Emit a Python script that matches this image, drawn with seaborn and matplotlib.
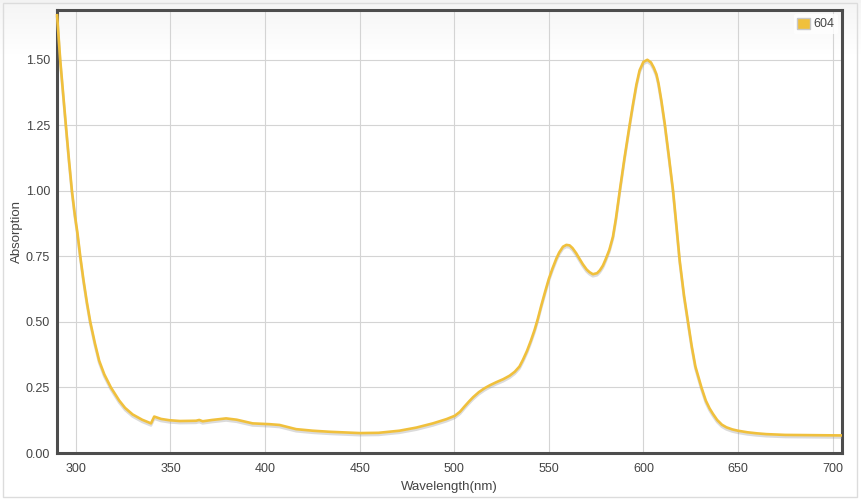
import numpy as np
import pandas as pd
import matplotlib
matplotlib.use("Agg")
import matplotlib.pyplot as plt
import matplotlib.patheffects as pe
from matplotlib.patches import Patch, Rectangle
import seaborn as sns

wavelength = [290, 291.7, 293.2, 294.7, 296.3, 297.9, 299.4, 300.8, 302.3, 304,
              305.8, 307.6, 310, 312.3, 315, 318.5, 322.9, 326, 330, 335,
              339.7, 341.4, 345, 349.4, 355, 363.5, 365.2, 367, 372, 379.4,
              385, 393.4, 402.3, 407.6, 416.4, 425.2, 434, 450, 460, 471,
              480, 488.7, 495.8, 500.3, 503, 505.5, 508, 510, 513, 516,
              519, 522.2, 526, 529.3, 532, 534.5, 536.3, 538.5, 540.5, 542.5,
              544.2, 546, 548, 550, 552, 554, 555.5, 557.5, 559.3, 561,
              562.5, 564.5, 566.3, 568, 570, 571.5, 573.3, 575.5, 577, 578.6,
              580, 582, 583.9, 585.5, 587.5, 590, 592.8, 594.5, 596.3, 598,
              600, 602.1, 604, 605.5, 606.9, 608, 609.5, 611.3, 613.5, 615.7,
              617.5, 619.2, 621.5, 623.6, 625.5, 627.5, 630.7, 633, 635, 636.8,
              639, 641.5, 643.9, 647, 650, 655, 660, 665, 675, 690, 705]
absorption = [1.675, 1.50, 1.375, 1.25, 1.12, 1.00, 0.91, 0.84, 0.75, 0.66,
              0.575, 0.50, 0.42, 0.352, 0.30, 0.25, 0.20, 0.172, 0.147, 0.127,
              0.113, 0.139, 0.130, 0.125, 0.122, 0.123, 0.126, 0.121, 0.126, 0.132,
              0.127, 0.113, 0.110, 0.107, 0.091, 0.085, 0.081, 0.076, 0.077, 0.085,
              0.097, 0.113, 0.129, 0.142, 0.157, 0.178, 0.198, 0.213, 0.232, 0.247,
              0.259, 0.27, 0.282, 0.295, 0.31, 0.33, 0.355, 0.39, 0.428, 0.47,
              0.512, 0.562, 0.614, 0.664, 0.705, 0.742, 0.765, 0.787, 0.794, 0.792,
              0.782, 0.762, 0.74, 0.72, 0.70, 0.69, 0.682, 0.686, 0.697, 0.715,
              0.738, 0.775, 0.825, 0.895, 1.00, 1.125, 1.255, 1.33, 1.405, 1.46,
              1.492, 1.50, 1.49, 1.47, 1.445, 1.41, 1.345, 1.256, 1.13, 1.00,
              0.865, 0.734, 0.60, 0.50, 0.41, 0.33, 0.25, 0.20, 0.17, 0.149,
              0.126, 0.108, 0.098, 0.09, 0.085, 0.079, 0.075, 0.072, 0.069, 0.068, 0.067]
series_name = "604"
x_ticks = [300, 350, 400, 450, 500, 550, 600, 650, 700]
y_ticks = [0.00, 0.25, 0.50, 0.75, 1.00, 1.25, 1.50]

df = pd.DataFrame({"Wavelength": wavelength, "Absorption": absorption})

sns.set_theme(style="white")
plt.rcParams["font.family"] = ["Liberation Sans", "DejaVu Sans"]

W, H = 862, 501
fig = plt.figure(figsize=(W / 100, H / 100), dpi=100)
fig.patch.set_facecolor("white")

# background gradient + outer border
bg = fig.add_axes([0, 0, 1, 1], zorder=-10)
grad = np.ones((H, 1))
grad[:60, 0] = np.linspace(0.955, 1.0, 60)
bg.imshow(grad, cmap="gray", vmin=0, vmax=1, aspect="auto", extent=[0, W, H, 0])
bg.set_xlim(0, W)
bg.set_ylim(H, 0)
bg.add_patch(Rectangle((3, 3), W - 8, H - 7, fill=False, edgecolor="#dcdcdc", lw=1))
bg.axis("off")

ax = fig.add_axes([57 / W, 1 - 453 / H, (842 - 57) / W, (453 - 10) / H])
ax.patch.set_alpha(0)

color = "#f0c03c"
sns.lineplot(data=df, x="Wavelength", y="Absorption", ax=ax, color=color,
             lw=1.9, sort=False, legend=False, zorder=3, clip_on=False,
             solid_capstyle="butt", solid_joinstyle="round",
             path_effects=[pe.SimpleLineShadow(offset=(0, -1.5), shadow_color="#999999", alpha=0.35),
                           pe.Normal()])

ax.set_xlim(290, 705)
ax.set_ylim(0, 1.69)
ax.set_xticks(x_ticks)
ax.set_yticks(y_ticks)
ax.set_yticklabels([f"{v:.2f}" for v in y_ticks])
ax.grid(True, color="#d4d4d4", lw=0.8)
ax.set_axisbelow(True)
ax.tick_params(axis="both", length=0, labelsize=9, colors="#444444", pad=5)
ax.tick_params(axis="x", pad=7)
for s in ax.spines.values():
    s.set_visible(True)
    s.set_color("#4d4d4d")
    s.set_linewidth(2.2)

ax.set_xlabel("Wavelength(nm)", fontsize=9.5, color="#444444")
ax.set_ylabel("Absorption", fontsize=9.5, color="#444444")
ax.yaxis.set_label_coords((23 - 57) / 785, 0.5)
ax.xaxis.set_label_coords(0.5, (453 - 481) / 443)

leg = ax.legend(handles=[Patch(facecolor=color, edgecolor="#c8c8c8", label=series_name)],
                loc="upper right", frameon=True, fontsize=9, handlelength=1.0, handleheight=1.0,
                handletextpad=0.3, borderpad=0.3, borderaxespad=0.3)
leg.get_frame().set_facecolor("white")
leg.get_frame().set_edgecolor("none")
for t in leg.get_texts():
    t.set_color("#444444")

fig.savefig("out.png", dpi=100)
